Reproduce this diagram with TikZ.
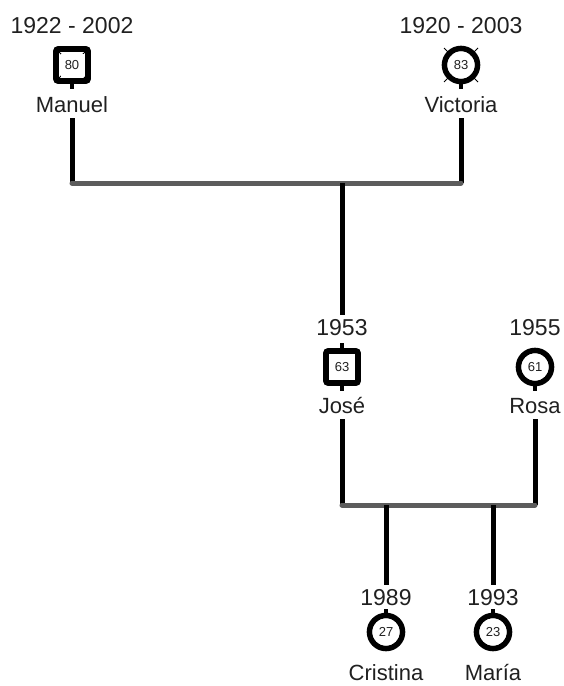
\documentclass[tikz,border=0pt]{standalone}
\usepackage{fontspec}
\setmainfont{Liberation Sans}
\usepackage{xcolor}
\definecolor{FTInk}{HTML}{202020}
\definecolor{FTBar}{HTML}{5C5C5C}
\tikzset{
  yearlbl/.style={anchor=base,inner xsep=0pt,inner ysep=2pt,text height=8pt,text depth=0pt,font=\fontsize{11.5}{13}\selectfont,text=FTInk},
  namelbl/.style={anchor=base,inner xsep=0pt,inner ysep=0pt,text height=8pt,text depth=3pt,font=\fontsize{11}{13}\selectfont,text=FTInk},
  male/.style={rectangle,draw=black,fill=white,rounded corners=1pt,line width=2.8pt,minimum size=16pt,inner sep=0pt},
  female/.style={circle,draw=black,fill=white,line width=2.8pt,minimum size=16.5pt,inner sep=0pt},
  agebox/.style={rectangle,fill=white,minimum size=11.5pt,inner sep=0pt,font=\fontsize{6.5}{7}\selectfont,text=FTInk},
  agecirc/.style={circle,fill=white,minimum size=13.5pt,inner sep=0pt,font=\fontsize{6.5}{7}\selectfont,text=FTInk},
  stem/.style={line width=2pt,black},
  xmark/.style={line width=0.5pt,black},
  vline/.style={line width=2.5pt,black},
  hbar/.style={line width=2.5pt,FTBar,line cap=round}
}
\begin{document}
\begin{tikzpicture}[x=0.5pt,y=-0.5pt]
\path[use as bounding box] (0,0) rectangle (563,686);
% grandparents
\node[yearlbl] (yrManuel) at (72,33) {1922 - 2002};
\node[male] (symManuel) at (72,65) {};
\draw[xmark] ([shift={(-16,-16)}]symManuel.center) -- ([shift={(16,16)}]symManuel.center);
\draw[xmark] ([shift={(-16,16)}]symManuel.center) -- ([shift={(16,-16)}]symManuel.center);
\node[agebox] (ageManuel) at (symManuel) {80};
\draw[stem] (symManuel.south) -- ++(0,5);
\node[namelbl] (nmManuel) at (72,112) {Manuel};
\node[yearlbl] (yrVictoria) at (461,33) {1920 - 2003};
\node[female] (symVictoria) at (461,65) {};
\draw[xmark] ([shift={(-17,-17)}]symVictoria.center) -- ([shift={(17,17)}]symVictoria.center);
\draw[xmark] ([shift={(-17,17)}]symVictoria.center) -- ([shift={(17,-17)}]symVictoria.center);
\node[agecirc] (ageVictoria) at (symVictoria) {83};
\draw[stem] (symVictoria.south) -- ++(0,5);
\node[namelbl] (nmVictoria) at (461,112) {Victoria};
\coordinate (barTopL) at (72,183);
\coordinate (barTopM) at (342,183);
\coordinate (barTopR) at (461,183);
\draw[vline] (nmManuel.south) -- (barTopL);
\draw[vline] (nmVictoria.south) -- (barTopR);
\draw[hbar] (barTopL) -- (barTopR);
% parents
\node[yearlbl] (yrJose) at (342,335) {1953};
\node[male] (symJose) at (342,367) {};
\node[agebox] (ageJose) at (symJose) {63};
\draw[stem] (symJose.north) -- ++(0,-5);
\draw[stem] (symJose.south) -- ++(0,5);
\node[namelbl] (nmJose) at (342,413) {José};
\draw[vline] (barTopM) -- (yrJose.north);
\node[yearlbl] (yrRosa) at (535,335) {1955};
\node[female] (symRosa) at (535,367) {};
\node[agecirc] (ageRosa) at (symRosa) {61};
\draw[stem] (symRosa.south) -- ++(0,5);
\node[namelbl] (nmRosa) at (535,413) {Rosa};
\coordinate (barLowL) at (342,505);
\coordinate (barLowC) at (386,505);
\coordinate (barLowM) at (493,505);
\coordinate (barLowR) at (535,505);
\draw[vline] (nmJose.south) -- (barLowL);
\draw[vline] (nmRosa.south) -- (barLowR);
\draw[hbar] (barLowL) -- (barLowR);
% children
\node[yearlbl] (yrCristina) at (386,605) {1989};
\node[female] (symCristina) at (386,632) {};
\node[agecirc] (ageCristina) at (symCristina) {27};
\draw[stem] (symCristina.north) -- ++(0,-4);
\node[namelbl] (nmCristina) at (386,680) {Cristina};
\draw[vline] (barLowC) -- (yrCristina.north);
\node[yearlbl] (yrMaria) at (493,605) {1993};
\node[female] (symMaria) at (493,632) {};
\node[agecirc] (ageMaria) at (symMaria) {23};
\draw[stem] (symMaria.north) -- ++(0,-4);
\node[namelbl] (nmMaria) at (493,680) {María};
\draw[vline] (barLowM) -- (yrMaria.north);
\end{tikzpicture}
\end{document}
